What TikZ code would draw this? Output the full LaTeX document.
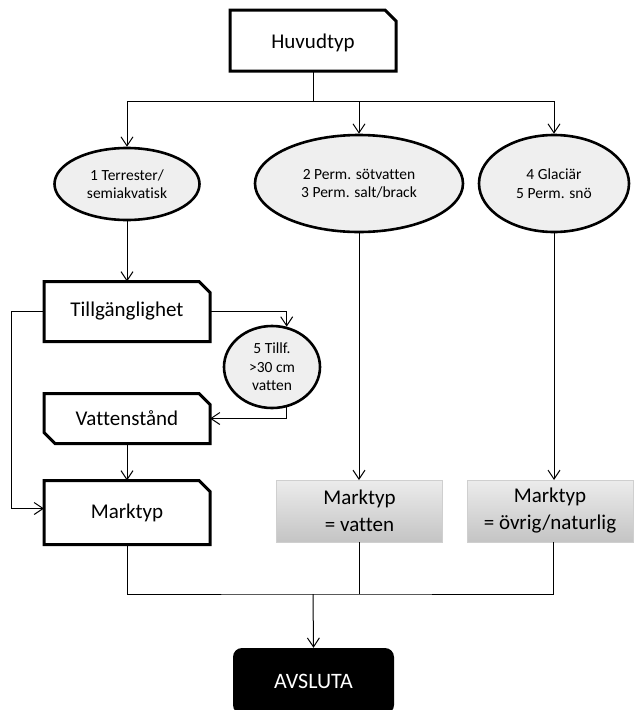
\documentclass[tikz,border=0pt]{standalone}
\usepackage{fontspec}
\setmainfont{Carlito}[Ligatures=NoCommon]
\usetikzlibrary{arrows.meta,shapes.geometric,calc}
\definecolor{ovalfill}{HTML}{EFEFEF}
\definecolor{resulttop}{HTML}{ECECEC}
\definecolor{resultbottom}{HTML}{C4C4C4}
\definecolor{resultedge}{HTML}{CFCFCF}
\begin{document}
\begin{tikzpicture}[x=1pt,y=-1pt,
  conn/.style={line width=1pt, draw=black},
  arr/.style={conn, -{Straight Barb[length=9pt,width=12pt,line width=1pt]}},
  boxtext/.style={font=\fontsize{21}{27}\selectfont, align=center, inner sep=0pt, outer sep=0pt},
  stepbox/.style={boxtext, rectangle, minimum width=166pt},
  frame/.style={line width=3pt, line join=miter, fill=white},
  oval/.style={ellipse, draw=black, line width=2.6pt, fill=ovalfill, inner sep=0pt,
    font=\fontsize{15.5}{18.5}\selectfont, align=center},
  result/.style={boxtext, rectangle, draw=resultedge, line width=1pt,
    top color=resulttop, bottom color=resultbottom, minimum width=166pt, minimum height=62pt},
  endbox/.style={rectangle, rounded corners=9pt, fill=black, text=white, inner sep=0pt,
    font=\fontsize{22}{26}\selectfont, minimum width=161pt, minimum height=66pt},
]
\useasboundingbox (0,0) rectangle (634,710);

% chamfered step boxes: named placeholders, outlines, then the labels on top
\node[stepbox, minimum height=61pt] (H) at (313,40.5) {\phantom{Huvudtyp}};
\node[stepbox, minimum height=60pt] (T) at (127,311.5) {\phantom{Tillgänglighet}};
\node[stepbox, minimum height=50pt] (V) at (127,418.5) {\phantom{Vattenstånd}};
\node[stepbox, minimum height=64pt] (M) at (127,512.5) {\phantom{Marktyp}};

\draw[frame] (H.south west) -- (H.north west) -- ([xshift=-11pt]H.north east)
  -- ([yshift=-11pt]H.north east) -- (H.south east) -- cycle;
\draw[frame] (T.south west) -- (T.north west) -- ([xshift=-11pt]T.north east)
  -- ([yshift=-11pt]T.north east) -- (T.south east) -- cycle;
\draw[frame] (V.north west) -- ([xshift=-11pt]V.north east) -- ([yshift=-11pt]V.north east)
  -- (V.south east) -- ([xshift=11pt]V.south west) -- ([yshift=11pt]V.south west) -- cycle;
\draw[frame] (M.south west) -- (M.north west) -- ([xshift=-11pt]M.north east)
  -- ([yshift=-11pt]M.north east) -- (M.south east) -- cycle;
\node[stepbox, minimum height=61pt] (Hl) at ([yshift=-2pt]H) {Huvudtyp};
\node[stepbox, minimum height=60pt] (Tl) at (T) {Tillgänglighet};
\node[stepbox, minimum height=50pt] (Vl) at (V) {Vattenstånd};
\node[stepbox, minimum height=64pt] (Ml) at (M) {Marktyp};

% main categories
\node[oval, minimum width=145pt, minimum height=72pt] (E1) at (127,184) {1 Terrester/\\semiakvatisk};
\node[oval, minimum width=208pt, minimum height=97pt] (E2) at (359,183.5) {2 Perm. sötvatten\\3 Perm. salt/brack};
\node[oval, minimum width=150pt, minimum height=97pt] (E3) at (554,183.5) {4 Glaciär\\5 Perm. snö};
\node[oval, minimum width=96pt, minimum height=82pt] (E4) at (272,367) {5 Tillf.\\>30 cm\\vatten};

% resulting ground types
\node[result] (W) at (359.5,511) {Marktyp\\= vatten};
\node[result] (O) at (550,511) {Marktyp\\= övrig/naturlig};

\node[endbox] (A) at (313.5,681) {AVSLUTA};

% connectors
\coordinate (j) at (313,101);
\coordinate (b) at (313,594);
\draw[conn] (H.south) -- (j);
\draw[arr] (j) -| (E1.north);
\draw[arr] (j) -| (E2.north);
\draw[arr] (j) -| (E3.north);
\draw[arr] (E1.south) -- (T.north);
\draw[arr] (T.east) -| (E4.70);
\draw[arr] (E4.-70) |- (V.east);
\draw[arr] (V.south) -- (M.north);
\draw[arr] (T.west) -- ++(-33,0) |- ([yshift=4pt]M.west);
\draw[arr] (E2.south) -- (E2.south |- W.north);
\draw[arr] (E3.south) -- (E3.south |- O.north);
\draw[conn] (M.south) |- (b) -| ([xshift=3pt]O.south);
\draw[conn] (W.south) -- (W.south |- b);
\draw[arr] (b) -- (A.north);
\end{tikzpicture}
\end{document}
